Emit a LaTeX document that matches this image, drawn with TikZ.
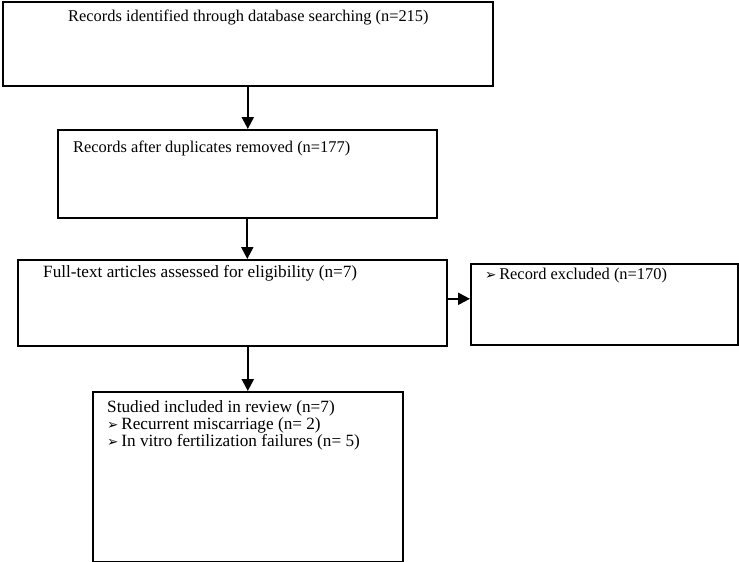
\documentclass[tikz,border=0pt]{standalone}
\usepackage{fontspec}
\setmainfont{Liberation Serif}
\newfontfamily\dejavu{DejaVu Sans}
\usetikzlibrary{arrows.meta,calc}
\newcommand{\arrbullet}{{\dejavu\fontsize{13.5}{15}\selectfont ➢}\,}
\begin{document}
\begin{tikzpicture}[x=1pt,y=-1pt,
  box/.style={draw,line width=1.6pt,rectangle,anchor=north west,inner sep=0pt},
  txt/.style={anchor=north west,inner sep=0pt,font=\fontsize{16.4}{17}\selectfont,align=left},
  bigtxt/.style={txt,font=\fontsize{17.2}{17}\selectfont},
  arr/.style={line width=2.2pt,-{Triangle[length=12pt,width=12pt]}}]
\useasboundingbox (0,0) rectangle (739,562);
\node[box,minimum width=490pt,minimum height=84pt] (b1) at (2,1) {};
\node[box,minimum width=379pt,minimum height=88pt] (b2) at (57,129) {};
\node[box,minimum width=429pt,minimum height=86pt] (b3) at (17,259) {};
\node[box,minimum width=267pt,minimum height=81pt] (b4) at (470,263) {};
\node[box,minimum width=310pt,minimum height=170pt] (b5) at (92,391) {};
\node[txt] (t1) at (68,10) {Records identified through database searching (n=215)};
\node[txt] (t2) at (73,141) {Records after duplicates removed (n=177)};
\node[bigtxt] (t3) at (43,265) {Full-text articles assessed for eligibility (n=7)};
\node[txt] (t4) at (485,268) {\arrbullet Record excluded (n=170)};
\node[bigtxt] (t5) at (107,400) {Studied included in review (n=7)\\
\arrbullet Recurrent miscarriage (n= 2)\\
\arrbullet In vitro fertilization failures (n= 5)};
\coordinate (h) at ($(b3.east)+(0,-4)$);
\draw[arr] (b1.south) -- (b1.south |- b2.north);
\draw[arr] (b2.south) -- (b2.south |- b3.north);
\draw[arr] (h) -- (h -| b4.west);
\draw[arr] (b3.south -| b5.north) -- (b5.north);
\end{tikzpicture}
\end{document}
